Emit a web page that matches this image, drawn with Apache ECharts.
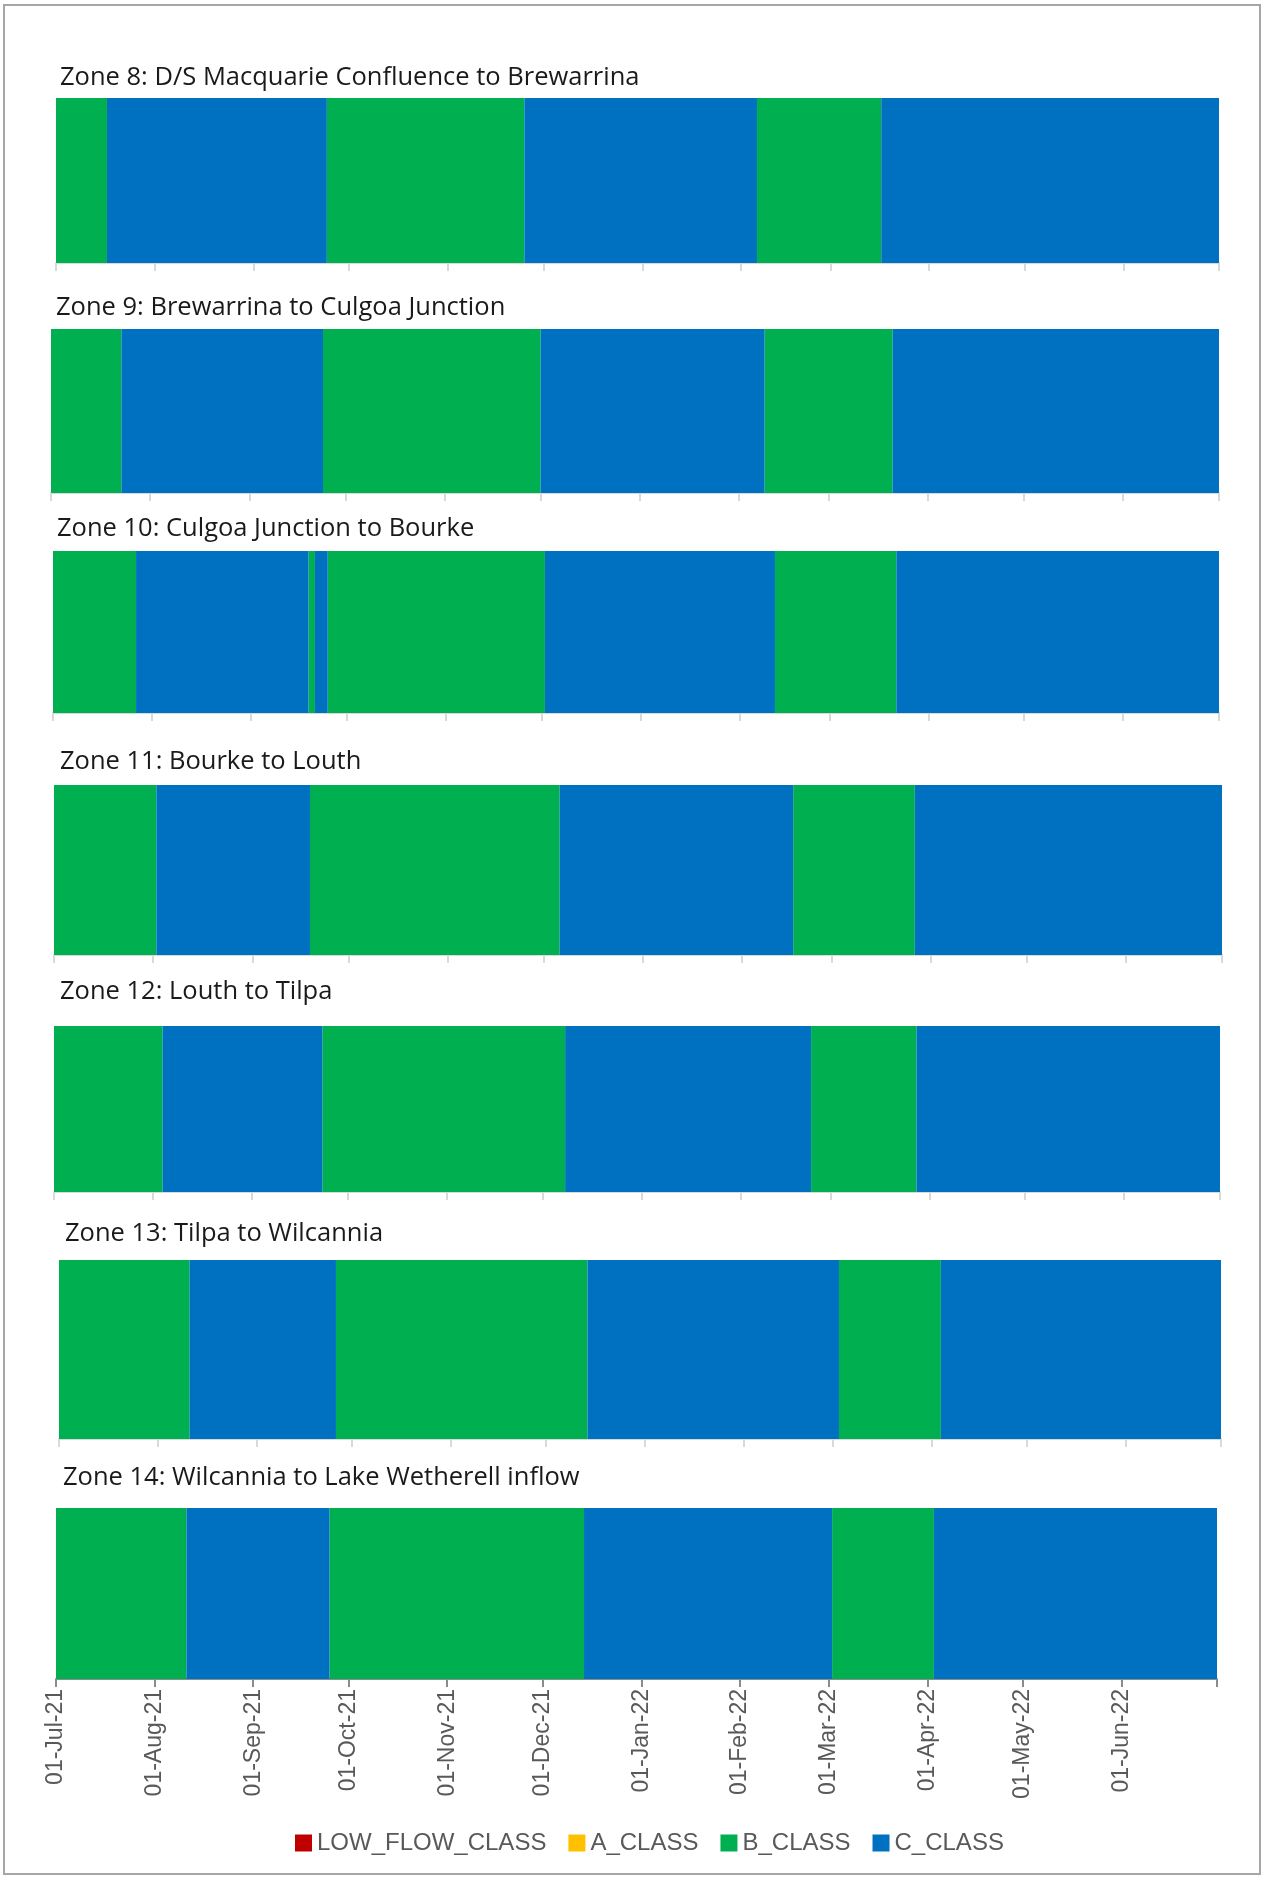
<!DOCTYPE html>
<html>
<head>
<meta charset="utf-8">
<script src="https://cdn.jsdelivr.net/npm/echarts@6/dist/echarts.min.js"></script>
<style>
  html, body { margin: 0; padding: 0; background: #fff; }
  #chart { width: 1263px; height: 1877px; }
</style>
</head>
<body>
<div id="chart"></div>
<script>
// flow classes shown in the legend
const classNames = ['LOW_FLOW_CLASS', 'A_CLASS', 'B_CLASS', 'C_CLASS'];
const classColors = ['#C00000', '#FFC000', '#00B050', '#0070C0'];
const monthNames = ['Jan', 'Feb', 'Mar', 'Apr', 'May', 'Jun', 'Jul', 'Aug', 'Sep', 'Oct', 'Nov', 'Dec'];

const periodStart = '2021-07-01';
const periodEnd = '2022-07-01';

const zoneTitles = [
  'Zone 8: D/S Macquarie Confluence to Brewarrina',
  'Zone 9: Brewarrina to Culgoa Junction',
  'Zone 10: Culgoa Junction to Bourke',
  'Zone 11: Bourke to Louth',
  'Zone 12: Louth to Tilpa',
  'Zone 13: Tilpa to Wilcannia',
  'Zone 14: Wilcannia to Lake Wetherell inflow'
];

// date each class period starts (runs until the next start / period end)
const zone8Starts = ['2021-07-01', '2021-07-17', '2021-09-24', '2021-11-25', '2022-02-06', '2022-03-17'];
const zone8Classes = ['B_CLASS', 'C_CLASS', 'B_CLASS', 'C_CLASS', 'B_CLASS', 'C_CLASS'];

const zone9Starts = ['2021-07-01', '2021-07-23', '2021-09-24', '2021-12-01', '2022-02-09', '2022-03-21'];
const zone9Classes = ['B_CLASS', 'C_CLASS', 'B_CLASS', 'C_CLASS', 'B_CLASS', 'C_CLASS'];

const zone10Starts = ['2021-07-01', '2021-07-27', '2021-09-19', '2021-09-21', '2021-09-25', '2021-12-02', '2022-02-12', '2022-03-22'];
const zone10Classes = ['B_CLASS', 'C_CLASS', 'B_CLASS', 'C_CLASS', 'B_CLASS', 'C_CLASS', 'B_CLASS', 'C_CLASS'];

const zone11Starts = ['2021-07-01', '2021-08-02', '2021-09-19', '2021-12-06', '2022-02-17', '2022-03-27'];
const zone11Classes = ['B_CLASS', 'C_CLASS', 'B_CLASS', 'C_CLASS', 'B_CLASS', 'C_CLASS'];

const zone12Starts = ['2021-07-01', '2021-08-04', '2021-09-23', '2021-12-08', '2022-02-23', '2022-03-28'];
const zone12Classes = ['B_CLASS', 'C_CLASS', 'B_CLASS', 'C_CLASS', 'B_CLASS', 'C_CLASS'];

const zone13Starts = ['2021-07-01', '2021-08-11', '2021-09-26', '2021-12-14', '2022-03-03', '2022-04-04'];
const zone13Classes = ['B_CLASS', 'C_CLASS', 'B_CLASS', 'C_CLASS', 'B_CLASS', 'C_CLASS'];

const zone14Starts = ['2021-07-01', '2021-08-11', '2021-09-25', '2021-12-14', '2022-03-02', '2022-04-03'];
const zone14Classes = ['B_CLASS', 'C_CLASS', 'B_CLASS', 'C_CLASS', 'B_CLASS', 'C_CLASS'];

const zoneStarts = [zone8Starts, zone9Starts, zone10Starts, zone11Starts, zone12Starts, zone13Starts, zone14Starts];
const zoneClasses = [zone8Classes, zone9Classes, zone10Classes, zone11Classes, zone12Classes, zone13Classes, zone14Classes];

// panel boxes in px
const boxes = [
  { left: 56, top: 98, width: 1163, height: 165, titleX: 60, titleY: 78 },
  { left: 51, top: 329, width: 1168, height: 164, titleX: 56, titleY: 308 },
  { left: 53, top: 551, width: 1166, height: 162, titleX: 57, titleY: 529 },
  { left: 54, top: 785, width: 1168, height: 170, titleX: 60, titleY: 762 },
  { left: 54, top: 1026, width: 1166, height: 166, titleX: 60, titleY: 992 },
  { left: 59, top: 1260, width: 1162, height: 179, titleX: 65, titleY: 1234 },
  { left: 56, top: 1508, width: 1161, height: 171, titleX: 63, titleY: 1478 }
];

const DAY = 86400000;

function toTime(s) {
  const p = s.split('-');
  return new Date(+p[0], +p[1] - 1, +p[2]).getTime();
}

function fmtDate(v) {
  if (v >= toTime(periodEnd)) return '';
  const d = new Date(v);
  return String(d.getDate()).padStart(2, '0') + '-' + monthNames[d.getMonth()] + '-' + String(d.getFullYear()).slice(2);
}

function renderSeg(params, api) {
  const a = api.coord([api.value(0), 1]);
  const b = api.coord([api.value(1), 0]);
  return {
    type: 'rect',
    shape: { x: a[0], y: a[1], width: b[0] - a[0], height: b[1] - a[1] },
    style: { fill: api.visual('color') }
  };
}

const chart = echarts.init(document.getElementById('chart'));

const titles = [], grids = [], xAxes = [], yAxes = [], series = [];
const last = boxes.length - 1;

boxes.forEach((b, i) => {
  titles.push({
    text: zoneTitles[i],
    left: b.titleX,
    top: b.titleY - 15,
    padding: 0,
    textStyle: { fontFamily: 'Open Sans', fontSize: 25.5, fontWeight: 'normal', color: '#1a1a1a', lineHeight: 30 }
  });
  grids.push({ left: b.left, top: b.top, width: b.width, height: b.height, containLabel: false });
  const axisCol = i === last ? '#8c8c8c' : '#d9d9d9';
  xAxes.push({
    type: 'time',
    gridIndex: i,
    min: toTime(periodStart),
    max: toTime(periodEnd),
    minInterval: 28 * DAY,
    maxInterval: 31 * DAY,
    splitLine: { show: false },
    axisLine: { show: true, lineStyle: { color: axisCol, width: 2 } },
    axisTick: { show: true, length: 8, lineStyle: { color: axisCol, width: 2 } },
    axisLabel: {
      show: i === last,
      rotate: 90,
      margin: 10,
      formatter: fmtDate,
      showMinLabel: true,
      showMaxLabel: false,
      hideOverlap: false,
      fontFamily: 'Liberation Sans',
      fontSize: 23,
      color: '#595959'
    }
  });
  yAxes.push({ type: 'value', gridIndex: i, min: 0, max: 1, show: false });

  const starts = zoneStarts[i];
  const cls = zoneClasses[i];
  classNames.forEach((name, c) => {
    const data = [];
    starts.forEach((s, k) => {
      if (cls[k] !== name) return;
      const end = k + 1 < starts.length ? starts[k + 1] : periodEnd;
      data.push([toTime(s), toTime(end)]);
    });
    series.push({
      type: 'custom',
      name: name,
      xAxisIndex: i,
      yAxisIndex: i,
      itemStyle: { color: classColors[c] },
      renderItem: renderSeg,
      encode: { x: [0, 1] },
      silent: true,
      data: data
    });
  });
});

chart.setOption({
  animation: false,
  backgroundColor: '#fff',
  title: titles,
  grid: grids,
  xAxis: xAxes,
  yAxis: yAxes,
  legend: {
    data: classNames,
    left: 290,
    top: 1826,
    icon: 'rect',
    itemWidth: 17,
    itemHeight: 17,
    itemGap: 22,
    textStyle: { fontFamily: 'Liberation Sans', fontSize: 24, color: '#595959' }
  },
  graphic: [{
    type: 'rect',
    silent: true,
    shape: { x: 4, y: 5, width: 1256, height: 1869 },
    style: { fill: 'none', stroke: '#a6a6a6', lineWidth: 2 }
  }],
  series: series
});
</script>
</body>
</html>
